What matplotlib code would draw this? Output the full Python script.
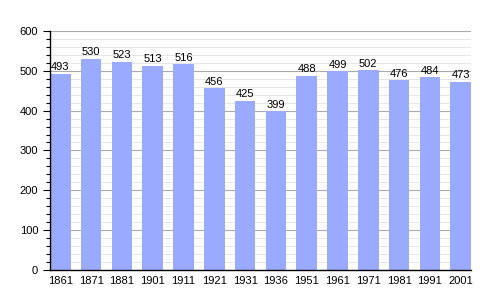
import matplotlib
matplotlib.use("Agg")
import matplotlib.pyplot as plt
from matplotlib.ticker import MultipleLocator

years = ["1861", "1871", "1881", "1901", "1911", "1921", "1931", "1936",
         "1951", "1961", "1971", "1981", "1991", "2001"]
population = [493, 530, 523, 513, 516, 456, 425, 399, 488, 499, 502, 476, 484, 473]

plt.rcParams['font.family'] = ['Liberation Sans', 'DejaVu Sans']

fig = plt.figure(figsize=(5, 3), dpi=100)
ax = fig.add_axes([0.1, 0.1, 0.842, 0.797])

x = list(range(len(years)))
ax.bar(x, population, width=0.67, color="#99aaff", zorder=2)
for xi, v in zip(x, population):
    ax.annotate(str(v), (xi, v), xytext=(0, 1), textcoords="offset points",
                ha="center", va="bottom", fontsize=8, zorder=3)

ax.set_xlim(-0.335, len(years) - 1 + 0.335)
ax.set_ylim(0, 600)
ax.set_xticks(x)
ax.set_xticklabels(years, fontsize=8)
ax.yaxis.set_major_locator(MultipleLocator(100))
ax.yaxis.set_minor_locator(MultipleLocator(20))
ax.tick_params(axis="y", which="major", labelsize=8, length=5, width=0.8, direction="out")
ax.tick_params(axis="y", which="minor", length=3, width=0.8, direction="out")
ax.tick_params(axis="x", length=0, labelsize=8, pad=4)

ax.grid(axis="y", which="major", color="#aaaaaa", linewidth=0.8, zorder=0)
ax.grid(axis="y", which="minor", color="#e2e2e2", linewidth=0.6, zorder=0)
ax.set_axisbelow(True)

for s in ["top", "right"]:
    ax.spines[s].set_visible(False)
ax.spines["left"].set_linewidth(1.0)
ax.spines["bottom"].set_linewidth(1.0)

fig.savefig("out.png", dpi=100)
